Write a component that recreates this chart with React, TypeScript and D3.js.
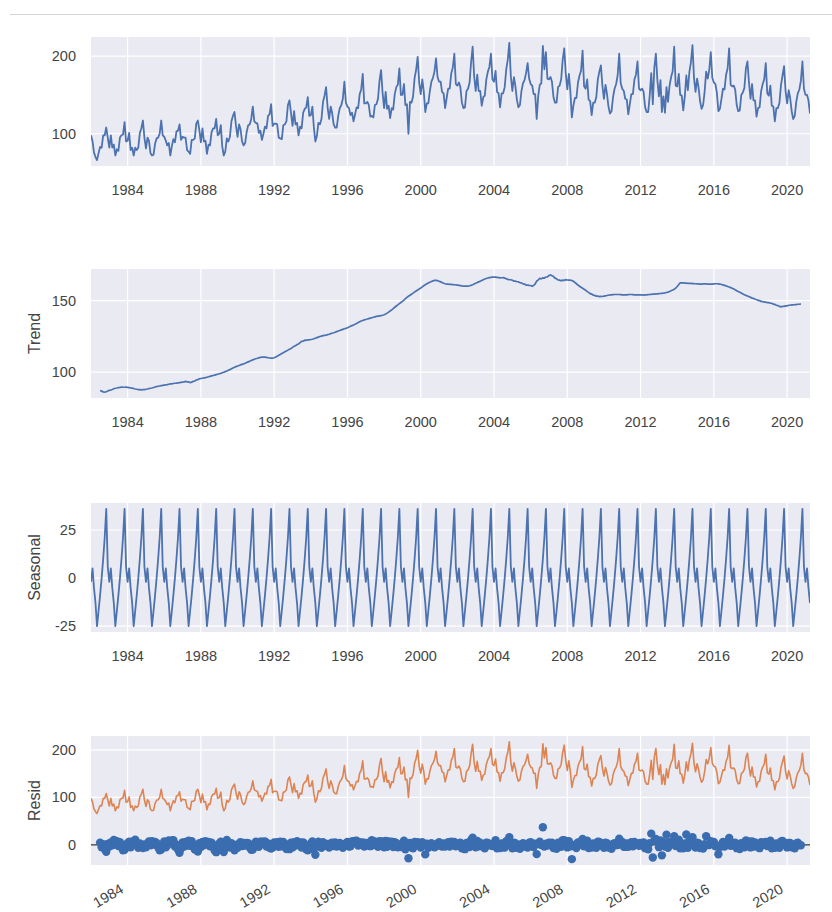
import React, { useEffect, useRef } from 'react'
import * as d3 from 'd3'

const WIDTH = 832
const HEIGHT = 912

// monthly observations, Jan 1982 .. Apr 2021
const observed = [
  98, 90, 76, 70, 66, 75, 83, 82, 98, 98, 108, 95, // 1982
  82, 98, 82, 86, 72, 80, 78, 95, 98, 99, 115, 90,
  91, 101, 79, 82, 72, 82, 79, 82, 101, 107, 117, 95,
  81, 95, 91, 75, 72, 73, 87, 94, 95, 100, 117, 98,
  96, 91, 85, 88, 72, 84, 93, 89, 103, 104, 112, 92,
  96, 95, 95, 79, 77, 74, 92, 92, 94, 113, 117, 105,
  89, 107, 90, 91, 74, 86, 85, 102, 107, 107, 119, 98,
  100, 111, 84, 72, 77, 94, 90, 96, 116, 123, 128, 110,
  96, 112, 106, 90, 85, 88, 102, 111, 112, 119, 135, 116, // 1990
  114, 113, 101, 104, 92, 100, 109, 107, 123, 125, 138, 110,
  113, 113, 112, 95, 94, 93, 111, 112, 116, 137, 143, 127,
  110, 129, 112, 114, 98, 109, 107, 127, 132, 134, 147, 123,
  124, 135, 109, 90, 97, 114, 112, 119, 141, 149, 160, 134,
  119, 135, 127, 112, 108, 108, 123, 133, 137, 145, 167, 140,
  135, 133, 124, 127, 116, 125, 134, 133, 151, 157, 177, 139,
  139, 141, 137, 122, 123, 121, 137, 138, 145, 168, 182, 153,
  133, 154, 132, 136, 120, 133, 131, 151, 160, 163, 184, 150,
  150, 164, 137, 138, 100, 141, 140, 148, 172, 182, 199, 166,
  151, 170, 155, 128, 139, 139, 155, 167, 172, 180, 197, 173, // 2000
  167, 167, 154, 152, 133, 146, 158, 158, 178, 185, 203, 164,
  162, 166, 160, 140, 133, 134, 155, 158, 166, 192, 212, 174,
  155, 176, 155, 155, 136, 147, 149, 170, 180, 186, 203, 170,
  167, 181, 154, 152, 134, 152, 152, 160, 183, 195, 217, 174,
  155, 173, 162, 144, 134, 137, 155, 165, 169, 178, 191, 171,
  164, 162, 151, 151, 119, 149, 163, 165, 213, 183, 205, 171,
  170, 173, 167, 147, 140, 140, 160, 162, 170, 195, 210, 178,
  157, 177, 156, 121, 136, 146, 146, 166, 175, 181, 207, 161,
  158, 170, 144, 142, 124, 140, 140, 147, 170, 180, 188, 162,
  145, 163, 152, 135, 126, 129, 147, 158, 164, 175, 203, 165, // 2010
  158, 155, 145, 144, 125, 138, 151, 151, 170, 176, 193, 158,
  156, 158, 154, 134, 128, 128, 149, 178, 138, 185, 203, 169,
  148, 169, 128, 148, 127, 160, 141, 162, 173, 180, 212, 162,
  161, 177, 150, 149, 130, 148, 175, 156, 180, 192, 214, 172,
  154, 171, 160, 142, 132, 137, 154, 180, 171, 182, 205, 172,
  166, 164, 153, 129, 132, 145, 158, 157, 176, 184, 210, 163,
  161, 162, 157, 137, 129, 130, 150, 153, 159, 184, 193, 166,
  145, 164, 143, 143, 122, 133, 134, 155, 164, 170, 191, 152,
  149, 162, 136, 135, 116, 133, 133, 140, 163, 175, 187, 155,
  139, 156, 146, 129, 119, 123, 141, 152, 157, 168, 193, 158, // 2020
  150, 150, 143, 126
]

// centred moving-average trend, Jul 1982 .. Oct 2020
const TREND_OFFSET = 6
const trend = [
  87.2, 86.8, 86.3, 86.1, 86.4, 86.9, // 1982
  87.3, 87.6, 88.0, 88.5, 88.8, 89.0, 89.3, 89.4, 89.6, 89.5, 89.5, 89.6,
  89.4, 89.2, 89.0, 88.9, 88.6, 88.3, 88.1, 87.9, 87.8, 87.7, 87.8, 87.9,
  88.1, 88.3, 88.6, 88.8, 89.0, 89.3, 89.7, 90.0, 90.2, 90.4, 90.6, 90.8,
  91.0, 91.1, 91.3, 91.6, 91.8, 91.9, 92.1, 92.3, 92.4, 92.6, 92.7, 92.9,
  93.1, 93.3, 93.6, 93.3, 93.2, 92.8, 93.1, 93.6, 93.9, 94.6, 94.8, 95.4,
  95.6, 95.8, 96.0, 96.2, 96.5, 96.8, 97.1, 97.4, 97.7, 98.0, 98.3, 98.6,
  98.9, 99.2, 99.6, 100.0, 100.4, 100.8, 101.3, 101.8, 102.4, 103.0, 103.5, 103.9,
  104.3, 104.7, 105.1, 105.5, 105.8, 106.2, 106.7, 107.2, 107.7, 108.2, 108.6, 109.0, // 1990
  109.4, 109.7, 110.0, 110.3, 110.5, 110.6, 110.5, 110.3, 110.1, 109.9, 109.8, 109.8,
  110.1, 110.6, 111.2, 111.8, 112.4, 113.0, 113.6, 114.2, 114.8, 115.4, 116.0, 116.6,
  117.3, 118.1, 118.5, 119.3, 119.7, 120.6, 121.5, 121.6, 122.3, 122.2, 122.6, 122.5,
  122.8, 123.0, 123.3, 123.7, 124.1, 124.5, 124.9, 125.2, 125.5, 125.7, 125.9, 126.2,
  126.5, 126.9, 127.2, 127.5, 127.9, 128.3, 128.7, 129.1, 129.5, 129.9, 130.3, 130.6,
  131.0, 131.5, 132.0, 132.5, 133.0, 133.5, 134.0, 134.6, 135.2, 135.7, 136.1, 136.5,
  136.8, 137.1, 137.4, 137.7, 138.0, 138.3, 138.6, 138.9, 139.1, 139.3, 139.5, 139.7,
  140.1, 140.6, 141.2, 141.9, 142.7, 143.5, 144.4, 145.3, 146.2, 147.0, 147.8, 148.6,
  149.4, 150.3, 151.3, 152.2, 153.0, 153.7, 154.4, 155.2, 156.0, 156.7, 157.4, 158.0,
  158.7, 159.5, 160.3, 161.0, 161.7, 162.3, 162.8, 163.3, 163.7, 164.0, 164.1, 163.9, // 2000
  163.5, 163.0, 162.5, 162.0, 161.7, 161.5, 161.4, 161.3, 161.2, 161.1, 161.0, 160.9,
  160.8, 160.6, 160.4, 160.2, 160.1, 160.0, 160.0, 160.1, 160.3, 160.6, 161.0, 161.5,
  162.0, 162.5, 163.0, 163.5, 164.0, 164.5, 165.0, 165.4, 165.7, 166.0, 166.2, 166.3,
  166.4, 166.3, 166.2, 166.0, 165.8, 165.9, 166.0, 165.6, 165.2, 164.8, 164.6, 164.5,
  164.1, 163.6, 163.6, 163.1, 163.1, 162.4, 162.3, 161.6, 161.5, 160.8, 160.8, 160.6,
  160.5, 159.9, 160.6, 161.6, 163.5, 164.4, 165.4, 165.2, 165.8, 165.7, 166.4, 166.5,
  167.4, 167.9, 167.3, 166.8, 165.6, 165.2, 164.3, 164.2, 163.8, 164.2, 164.1, 164.5,
  164.3, 164.2, 164.2, 164.0, 163.4, 162.6, 161.7, 160.8, 160.0, 159.3, 158.6, 157.9,
  157.2, 156.2, 155.7, 154.8, 154.5, 153.8, 153.6, 153.1, 153.1, 152.7, 152.9, 152.8,
  153.1, 153.3, 153.5, 153.7, 153.9, 154.0, 154.1, 154.2, 154.2, 154.2, 154.2, 154.1, // 2010
  154.0, 153.9, 153.9, 154.0, 154.1, 154.2, 154.2, 154.1, 154.0, 153.9, 153.9, 154.0,
  154.0, 153.9, 153.8, 153.9, 154.0, 154.1, 154.2, 154.3, 154.4, 154.5, 154.6, 154.7,
  154.8, 154.9, 155.0, 155.1, 155.3, 155.6, 155.9, 156.3, 156.8, 157.3, 157.9, 158.6,
  159.8, 161.2, 162.3, 162.4, 162.3, 162.2, 162.1, 162.0, 162.0, 161.9, 161.8, 161.8,
  161.7, 161.6, 161.6, 161.5, 161.5, 161.6, 161.6, 161.6, 161.5, 161.4, 161.4, 161.5,
  161.6, 161.7, 161.7, 161.6, 161.5, 161.2, 160.9, 160.6, 160.2, 159.8, 159.4, 159.0,
  158.6, 158.1, 157.5, 156.9, 156.3, 155.8, 155.2, 154.6, 154.0, 153.6, 153.1, 152.7,
  152.3, 151.7, 151.5, 150.9, 150.7, 150.1, 149.9, 149.4, 149.3, 148.9, 148.9, 148.5,
  148.5, 148.1, 148.1, 147.5, 147.3, 146.7, 146.5, 145.9, 145.6, 145.9, 145.9, 146.3,
  146.3, 146.7, 146.7, 147.0, 146.9, 147.2, 147.1, 147.4, 147.4, 147.7 // 2020
]

// seasonal component, Jan .. Dec (repeats every year)
const seasonal = [-2, 5, -5, -13, -25, -17, -9, 0, 10, 21, 36, 6]

const yearTicks = [1984, 1988, 1992, 1996, 2000, 2004, 2008, 2012, 2016, 2020]
const observedTicks = [100, 200]
const trendTicks = [100, 150]
const seasonalTicks = [-25, 0, 25]
const residTicks = [0, 100, 200]

const FONT = "'Liberation Sans', Arial, sans-serif"
const BLUE = '#4C72B0'
const ORANGE = '#DD8452'
const TEXT = '#444444'

function padded (vals) {
  const [lo, hi] = d3.extent(vals)
  const r = hi - lo
  return [lo - r * 0.05, hi + r * 0.05]
}

function draw (node) {
  const svg = d3.select(node)
  svg.selectAll('*').remove()

  const dates = observed.map((_, i) => new Date(1982, i, 1))
  const x = d3.scaleTime()
    .domain([dates[0], dates[dates.length - 1]])
    .range([91, 810])

  const obsPts = observed.map((v, i) => ({ d: dates[i], v }))
  const trendPts = trend.map((v, i) => ({ d: dates[i + TREND_OFFSET], v }))
  const seasPts = dates.map((d, i) => ({ d, v: seasonal[i % 12] }))
  const residPts = trend.map((t, i) => {
    const k = i + TREND_OFFSET
    return { d: dates[k], v: observed[k] - t - seasonal[k % 12] }
  })

  svg.append('line')
    .attr('x1', 10).attr('x2', WIDTH)
    .attr('y1', 14.5).attr('y2', 14.5)
    .attr('stroke', '#d4d4d4')

  const panels = [
    { top: 37, label: null, ticks: observedTicks, domain: padded(observed) },
    { top: 269, label: 'Trend', ticks: trendTicks, domain: padded(trend) },
    { top: 503, label: 'Seasonal', ticks: seasonalTicks, domain: padded(seasonal) },
    { top: 736, label: 'Resid', ticks: residTicks, domain: padded(observed.concat(residPts.map(p => p.v))) }
  ]
  const ph = 129
  const [x0, x1] = x.range()

  panels.forEach((p, idx) => {
    const y = d3.scaleLinear().domain(p.domain).range([p.top + ph, p.top])
    const g = svg.append('g')

    g.append('rect')
      .attr('x', x0).attr('y', p.top)
      .attr('width', x1 - x0).attr('height', ph)
      .attr('fill', '#EAEAF2')

    const clipId = 'clip' + idx
    g.append('clipPath').attr('id', clipId)
      .append('rect')
      .attr('x', x0).attr('y', p.top)
      .attr('width', x1 - x0).attr('height', ph)

    g.selectAll('.vgrid')
      .data(yearTicks)
      .enter().append('line')
      .attr('x1', d => x(new Date(d, 0, 1)))
      .attr('x2', d => x(new Date(d, 0, 1)))
      .attr('y1', p.top).attr('y2', p.top + ph)
      .attr('stroke', '#fff').attr('stroke-width', 1.2)

    g.selectAll('.hgrid')
      .data(p.ticks)
      .enter().append('line')
      .attr('x1', x0).attr('x2', x1)
      .attr('y1', d => y(d)).attr('y2', d => y(d))
      .attr('stroke', '#fff').attr('stroke-width', 1.2)

    const plot = g.append('g').attr('clip-path', `url(#${clipId})`)
    const line = d3.line().x(d => x(d.d)).y(d => y(d.v))

    if (idx === 0) {
      plot.append('path').attr('d', line(obsPts))
        .attr('fill', 'none').attr('stroke', BLUE).attr('stroke-width', 1.8)
        .attr('stroke-linejoin', 'round')
    } else if (idx === 1) {
      plot.append('path').attr('d', line(trendPts))
        .attr('fill', 'none').attr('stroke', BLUE).attr('stroke-width', 1.7)
    } else if (idx === 2) {
      plot.append('path').attr('d', line(seasPts))
        .attr('fill', 'none').attr('stroke', BLUE).attr('stroke-width', 1.8)
        .attr('stroke-linejoin', 'round')
    } else {
      plot.append('line')
        .attr('x1', x0).attr('x2', x1)
        .attr('y1', y(0)).attr('y2', y(0))
        .attr('stroke', '#000').attr('stroke-width', 1)
      plot.append('path').attr('d', line(obsPts))
        .attr('fill', 'none').attr('stroke', ORANGE).attr('stroke-width', 1.6)
        .attr('stroke-linejoin', 'round')
      plot.selectAll('circle')
        .data(residPts)
        .enter().append('circle')
        .attr('cx', d => x(d.d))
        .attr('cy', d => y(d.v))
        .attr('r', 4.2)
        .attr('fill', '#3a6db0')
    }

    g.selectAll('.ylab')
      .data(p.ticks)
      .enter().append('text')
      .attr('x', 76)
      .attr('y', d => y(d))
      .attr('dy', '0.35em')
      .attr('text-anchor', 'end')
      .attr('font-family', FONT)
      .attr('font-size', 14.5)
      .attr('fill', TEXT)
      .text(d => d)

    if (idx < 3) {
      g.selectAll('.xlab')
        .data(yearTicks)
        .enter().append('text')
        .attr('x', d => x(new Date(d, 0, 1)))
        .attr('y', p.top + ph + 29)
        .attr('text-anchor', 'middle')
        .attr('font-family', FONT)
        .attr('font-size', 14.5)
        .attr('fill', TEXT)
        .text(d => d)
    } else {
      g.selectAll('.xlab')
        .data(yearTicks)
        .enter().append('text')
        .attr('transform', d => `translate(${x(new Date(d, 0, 1)) - 3},${p.top + ph + 27}) rotate(-30)`)
        .attr('text-anchor', 'end')
        .attr('font-family', FONT)
        .attr('font-size', 14.5)
        .attr('fill', TEXT)
        .text(d => d)
    }

    if (p.label) {
      const cy = p.top + ph / 2
      g.append('text')
        .attr('transform', `translate(40,${cy}) rotate(-90)`)
        .attr('text-anchor', 'middle')
        .attr('font-family', FONT)
        .attr('font-size', 16)
        .attr('fill', TEXT)
        .text(p.label)
    }
  })
}

export default function App () {
  const ref = useRef(null)

  useEffect(() => {
    draw(ref.current)
  }, [])

  return (
    <svg
      ref={ref}
      width={WIDTH}
      height={HEIGHT}
      style={{ position: 'absolute', left: 0, top: 0, background: '#fff' }}
    />
  )
}
